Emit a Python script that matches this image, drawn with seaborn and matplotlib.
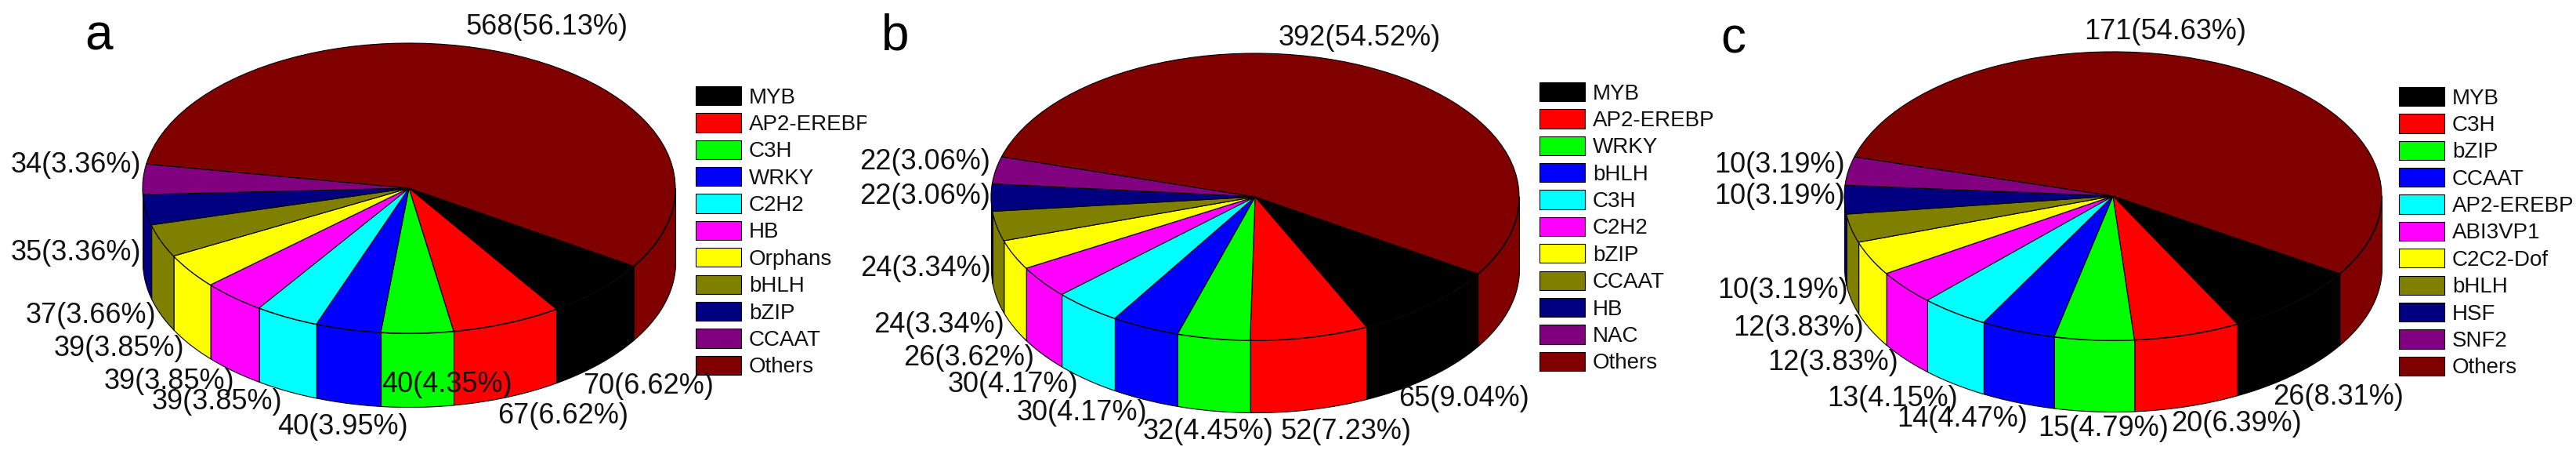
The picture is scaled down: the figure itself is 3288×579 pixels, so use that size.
import numpy as np
import seaborn as sns
import matplotlib.pyplot as plt

W, H = 3288, 579

slice_colors = ["#000000", "#ff0000", "#00ff00", "#0000ff", "#00ffff", "#ff00ff",
                "#ffff00", "#808000", "#000080", "#800080", "#800000"]

names_a = ["MYB", "AP2-EREBP", "C3H", "WRKY", "C2H2", "HB", "Orphans", "bHLH", "bZIP", "CCAAT", "Others"]
counts_a = [70, 67, 40, 40, 39, 39, 39, 37, 35, 34, 568]
pcts_a = [6.62, 6.62, 4.35, 3.95, 3.85, 3.85, 3.85, 3.66, 3.36, 3.36, 56.13]

names_b = ["MYB", "AP2-EREBP", "WRKY", "bHLH", "C3H", "C2H2", "bZIP", "CCAAT", "HB", "NAC", "Others"]
counts_b = [65, 52, 32, 30, 30, 26, 24, 24, 22, 22, 392]
pcts_b = [9.04, 7.23, 4.45, 4.17, 4.17, 3.62, 3.34, 3.34, 3.06, 3.06, 54.52]

names_c = ["MYB", "C3H", "bZIP", "CCAAT", "AP2-EREBP", "ABI3VP1", "C2C2-Dof", "bHLH", "HSF", "SNF2", "Others"]
counts_c = [26, 20, 15, 14, 13, 12, 12, 10, 10, 10, 171]
pcts_c = [8.31, 6.39, 4.79, 4.47, 4.15, 3.83, 3.83, 3.19, 3.19, 3.19, 54.63]

# layout in image pixels, label centres follow the slice order
# panel a's legend is cut off where panel b starts, hence the span of 1106
panels = [
    dict(letter="a", letter_xy=(126, 46), names=names_a, counts=counts_a, pcts=pcts_a,
         span=(0, 1106), centre=(522, 240), rx=340, ry=185, depth=94, legend_xy=(888, 110),
         label_xy=[(828, 493), (719, 530), (570, 491), (437, 545), (277, 513), (216, 487),
                   (152, 445), (116, 402), (97, 322), (97, 210), (698, 35)]),
    dict(letter="b", letter_xy=(1143, 46), names=names_b, counts=counts_b, pcts=pcts_b,
         span=(1106, 2200), centre=(1602, 251), rx=337, ry=183, depth=92, legend_xy=(1965, 105),
         label_xy=[(1868, 508), (1718, 550), (1542, 550), (1381, 526), (1293, 491), (1237, 456),
                   (1198, 414), (1181, 342), (1181, 251), (1181, 207), (1735, 48)]),
    dict(letter="c", letter_xy=(2212, 50), names=names_c, counts=counts_c, pcts=pcts_c,
         span=(2200, 3288), centre=(2697, 250), rx=343, ry=184, depth=91, legend_xy=(3062, 111),
         label_xy=[(2985, 506), (2854, 540), (2685, 546), (2505, 535), (2416, 508), (2340, 463),
                   (2296, 419), (2276, 371), (2272, 251), (2272, 210), (2764, 41)]),
]
start_angle = -32.5

sns.set_theme(style="white")
plt.rcParams["font.family"] = ["Liberation Sans", "DejaVu Sans"]
palette = sns.color_palette(slice_colors)

fig = plt.figure(figsize=(W / 100, H / 100), dpi=100)

for p in panels:
    left, right = p["span"]
    cx, cy = p["centre"]
    ax = fig.add_axes([left / W, 0, (right - left) / W, 1])

    wedges, _ = ax.pie(p["pcts"], colors=palette, startangle=start_angle, counterclock=False,
                       radius=1, wedgeprops=dict(edgecolor="black", linewidth=0.8, zorder=3))
    ax.set_aspect("auto")
    ax.set_xlim((left - cx) / p["rx"], (right - cx) / p["rx"])
    ax.set_ylim((cy - H) / p["ry"], cy / p["ry"])

    # side wall of the cylinder, only the front half shows
    edges = start_angle - np.cumsum([0] + list(p["pcts"])) / sum(p["pcts"]) * 360
    drop = p["depth"] / p["ry"]
    for i, col in enumerate(palette):
        for lo, hi in [(-180, 0), (-540, -360)]:
            t1, t2 = max(edges[i + 1], lo), min(edges[i], hi)
            if t1 >= t2:
                continue
            th = np.radians(np.linspace(t1, t2, 60))
            ax.fill_between(np.cos(th), np.sin(th), np.sin(th) - drop, color=col,
                            edgecolor="black", linewidth=0.8, zorder=2)

    leg = ax.legend(wedges, p["names"], loc="upper left",
                    bbox_to_anchor=(p["legend_xy"][0] / W, 1 - p["legend_xy"][1] / H),
                    bbox_transform=fig.transFigure, frameon=False, fontsize=20,
                    borderpad=0, borderaxespad=0, handlelength=2.08, handleheight=0.97,
                    handletextpad=0.36, labelspacing=0.24)
    for t in leg.get_texts():
        t.set_clip_box(ax.bbox)
        t.set_clip_on(True)
        t.set_color("#111111")

    for c, pct, (x, y) in zip(p["counts"], p["pcts"], p["label_xy"]):
        fig.text(x / W, 1 - y / H, f"{c}({pct:.2f}%)", fontsize=26, color="#111111",
                 ha="center", va="center", zorder=10)

    fig.text(p["letter_xy"][0] / W, 1 - p["letter_xy"][1] / H, p["letter"], fontsize=46,
             color="black", ha="center", va="center", zorder=10)

fig.savefig("out.png", dpi=100, facecolor="white")
